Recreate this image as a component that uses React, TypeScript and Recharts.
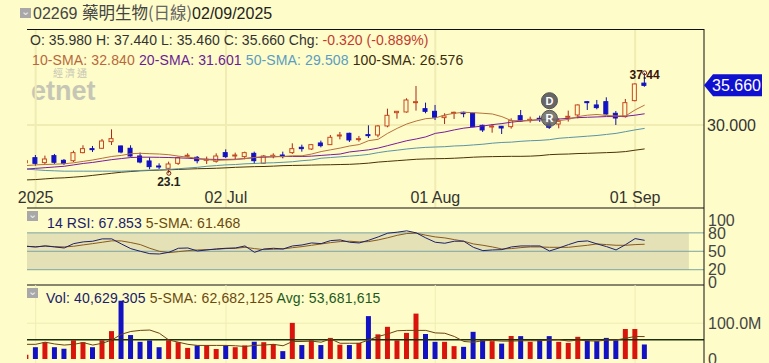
import {
  ComposedChart, Bar, Line, XAxis, YAxis, Cell, CartesianGrid,
  ReferenceLine, ReferenceArea, ReferenceDot,
} from 'recharts';

// one entry per trading day, first one is the clipped day left of the pane
const OPENS = [24.6, 25.33, 24.62, 25.62, 24.95, 24.9, 26.05, 26.62, 26.67, 27.62, 27, 26.67, 25.57, 24.86, 24.14, 23.81, 24.52, 25.57, 25.38, 24.95, 24.81, 26.05, 25.57, 25.48, 25.95, 24.52, 25.48, 25.71, 26.05, 26.81, 26.57, 27.43, 27.19, 28.43, 28.81, 27.95, 28.62, 28.57, 29.86, 31.76, 31.86, 33.19, 32.33, 31.95, 31.05, 31.67, 31.81, 31.67, 29.95, 29.71, 29.81, 29.76, 31.33, 30.62, 30.95, 30.14, 30.14, 31.1, 31.43, 33.33, 32.86, 33.33, 31.67, 31.19, 33.48, 35.98];
const HIGHS = [25, 25.71, 25.62, 25.86, 25.14, 26.33, 27.1, 27, 28, 29.38, 27.05, 27.1, 26.05, 25.38, 24.52, 24.76, 25.48, 25.95, 25.57, 25.48, 25.95, 26.52, 26.05, 26.19, 26.19, 25.71, 25.95, 26.19, 27.38, 27.19, 27.29, 27.76, 28.57, 29, 28.9, 28.43, 29.95, 30, 32.33, 32, 33.81, 35.57, 33.19, 32.86, 31.67, 31.9, 31.9, 31.76, 30.05, 30.14, 29.86, 30.95, 32.14, 31.19, 31.33, 31.43, 30.95, 32.05, 32.95, 33.43, 33.57, 33.95, 32, 33.71, 35.95, 37.44];
const LOWS = [24.38, 24.19, 24.38, 24.43, 24.29, 24.71, 25.95, 26.14, 26.57, 27.14, 25.95, 25.48, 24.52, 23.67, 23.71, 23.1, 24.29, 25.38, 24.52, 24.43, 24.62, 25.29, 25.1, 25.1, 24.43, 24.43, 25.24, 25.24, 25.86, 26.19, 26.43, 26.81, 27.19, 27.95, 27.57, 27.62, 28.14, 28.24, 29.67, 30.9, 31.76, 32.05, 31.67, 30.71, 30.14, 30.86, 31.1, 29.67, 29, 28.9, 28.71, 29.48, 30.48, 30.33, 30.43, 29.43, 29.52, 30.48, 30.95, 32.14, 32.24, 31.48, 30, 31.05, 33.38, 35.46];
const CLOSES = [24.9, 24.52, 25.14, 24.67, 24.52, 26.05, 26.62, 26.48, 27.71, 28.05, 26.14, 25.57, 24.71, 24.05, 24, 24.43, 25.33, 25.67, 24.9, 25.1, 25.57, 25.48, 25.71, 26.05, 24.9, 25.57, 25.67, 25.48, 26.62, 26.62, 27.19, 27.05, 28.24, 28.57, 27.86, 28.05, 28.52, 29.86, 31.38, 31.95, 33.57, 33.33, 31.95, 31.1, 31.29, 31.81, 31.62, 29.76, 29.29, 29.86, 29.57, 30.62, 30.57, 30.81, 30.76, 29.67, 30.52, 31.24, 32.86, 33.19, 32.48, 31.57, 31, 33.19, 35.86, 35.66];

const SMA_10 = [24.2, 24.3, 24.35, 24.4, 24.45, 24.6, 24.8, 25, 25.25, 25.5, 25.65, 25.9, 25.95, 25.9, 25.85, 25.75, 25.55, 25.4, 25.25, 25.05, 24.95, 25, 25.05, 25.2, 25.35, 25.48, 25.5, 25.5, 25.6, 25.6, 25.85, 26.2, 26.45, 26.7, 27, 27.2, 27.76, 27.95, 28.81, 29.52, 30.14, 30.57, 30.9, 31, 31.43, 31.67, 31.81, 31.76, 31.67, 31.57, 31.19, 30.62, 30.62, 30.65, 30.8, 30.75, 30.62, 30.8, 31.2, 31.4, 31.5, 31.35, 31.3, 31.3, 32.15, 32.84];
const SMA_20 = [23.7, 23.8, 23.9, 24, 24.1, 24.3, 24.5, 24.65, 24.85, 25.05, 25.2, 25.35, 25.4, 25.4, 25.38, 25.35, 25.3, 25.25, 25.15, 25.1, 25.08, 25.08, 25.1, 25.2, 25.35, 25.4, 25.45, 25.5, 25.5, 25.5, 25.55, 25.65, 25.75, 25.85, 26.15, 26.3, 26.45, 26.7, 27.05, 27.4, 27.75, 28, 28.3, 28.8, 29, 29.3, 29.55, 29.7, 29.85, 30.05, 30.2, 30.4, 30.55, 30.65, 30.75, 30.8, 30.85, 30.95, 31.05, 31.1, 31.15, 31.2, 31.2, 31.25, 31.4, 31.6];
const SMA_50 = [23.7, 23.6, 23.5, 23.45, 23.4, 23.4, 23.4, 23.4, 23.4, 23.4, 23.4, 23.45, 23.5, 23.55, 23.6, 23.65, 23.75, 23.85, 23.95, 24.1, 24.2, 24.3, 24.35, 24.45, 24.5, 24.57, 24.6, 24.67, 24.75, 24.9, 25, 25.25, 25.35, 25.45, 25.55, 25.65, 25.8, 26.05, 26.25, 26.4, 26.57, 26.7, 26.8, 26.85, 26.9, 27, 27.05, 27.15, 27.25, 27.4, 27.5, 27.55, 27.67, 27.75, 27.8, 27.9, 28.1, 28.2, 28.3, 28.4, 28.5, 28.65, 28.8, 29.05, 29.3, 29.51];
const SMA_100 = [22.15, 22.2, 22.3, 22.4, 22.45, 22.55, 22.65, 22.8, 22.95, 23.1, 23.25, 23.35, 23.45, 23.5, 23.55, 23.6, 23.65, 23.7, 23.75, 23.78, 23.82, 23.88, 23.95, 24, 24.05, 24.07, 24.12, 24.19, 24.22, 24.24, 24.27, 24.3, 24.32, 24.35, 24.38, 24.45, 24.55, 24.7, 24.8, 24.9, 25, 25.1, 25.15, 25.18, 25.2, 25.25, 25.32, 25.4, 25.45, 25.48, 25.5, 25.52, 25.52, 25.55, 25.62, 25.76, 25.82, 25.85, 25.92, 25.95, 26, 26.05, 26.1, 26.2, 26.4, 26.58];

const RSI_14 = [58.2, 57.1, 58.7, 57.1, 55.4, 62.5, 65.3, 66.4, 70.2, 70.2, 62, 54.3, 50, 46.1, 45.6, 48.3, 54.9, 55.4, 50.5, 52.2, 53.8, 54.9, 55.4, 58.7, 48.3, 53.8, 54.9, 53.8, 58.7, 60.3, 63.6, 62.5, 67.4, 68.5, 64.7, 63.6, 68, 73.4, 79.5, 81.1, 83.3, 80, 71.8, 64.7, 63.1, 66.4, 66.4, 56.5, 51.1, 52.2, 52.7, 57.1, 58.7, 58.7, 58.7, 50.5, 55.4, 60.9, 65.8, 66.9, 62, 57.6, 52.2, 60.9, 70.7, 67.85];
const RSI_SMA_5 = [58.2, 57.1, 58.7, 57.5, 57.1, 58.2, 60.4, 62.5, 64.7, 67, 66.9, 64.2, 60.9, 54.9, 50, 47.8, 49.4, 51.1, 52.2, 52.7, 53.3, 54.4, 54.9, 56.5, 54.4, 52.7, 53.3, 53.8, 55.9, 57.6, 59.8, 61.9, 64.1, 65.8, 66.4, 65.3, 65.8, 68.5, 72, 76, 78.9, 79.5, 76.2, 73.4, 71.8, 69, 66.4, 62, 59.8, 57.1, 53.8, 54.4, 56, 57.1, 57.1, 56.5, 56.5, 56.5, 58.2, 59.8, 62, 60.9, 59.8, 59.8, 60.9, 61.47];

// millions of shares
const VOLUMES = [12, 33, 47, 33, 29, 52, 47, 33, 52, 78, 163, 67, 48, 52, 33, 52, 47, 31, 38, 38, 28, 38, 33, 38, 48, 47, 42, 22, 101, 39, 52, 39, 59, 40, 39, 45, 120, 69, 90, 52, 73, 127, 70, 48, 48, 36, 34, 76, 55, 50, 43, 64, 64, 48, 55, 64, 48, 45, 62, 52, 50, 59, 52, 84, 84, 40.63];
const VOLUME_SMA_5 = [41, 41, 47, 42, 39, 41, 46, 39, 44, 53, 69, 77, 80, 81, 72, 53, 47, 41, 38, 38, 38, 38, 37, 35, 38, 39, 41, 37, 49, 49, 50, 47, 56, 44, 44, 44, 53, 63, 70, 79, 80, 80, 80, 73, 72, 63, 49, 47, 51, 52, 50, 50, 51, 51, 51, 53, 54, 50, 53, 51, 50, 53, 53, 58, 63, 62.68];

const DATE_TICKS = [0, 20, 42, 63];
const DATE_LABELS = ['2025', '02 Jul', '01 Aug', '01 Sep'];
const LAST_PRICE = 35.66;
const PRICE_TICK = 30;
const RSI_TICKS = [0, 20, 50, 80, 100];
const VOLUME_TICKS = [0, 100];
const VOLUME_AVG = 53.68;

const candles = OPENS.map((open, i) => ({
  day: i - 1,
  open,
  high: HIGHS[i],
  low: LOWS[i],
  close: CLOSES[i],
  sma10: SMA_10[i],
  sma20: SMA_20[i],
  sma50: SMA_50[i],
  sma100: SMA_100[i],
  rsi: RSI_14[i],
  rsiSma: RSI_SMA_5[i],
  vol: VOLUMES[i],
  volSma: VOLUME_SMA_5[i],
}));

const FONT = '"Liberation Sans", Arial, sans-serif';
const BG = '#fefcc8';
const RED = '#d8140c';
const BLUE = '#1212c4';
const GRID = '#f0ecb4';
const X_DOMAIN: [number, number] = [-0.91, 70.24];

function Candle(props: any) {
  const { x, y, width, height, payload: d } = props;
  const perUnit = height / (d.high - d.low || 1);
  const yOf = (v: number) => y + (d.high - v) * perUnit;
  const up = d.close >= d.open;
  const top = yOf(Math.max(d.open, d.close));
  const bottom = yOf(Math.min(d.open, d.close));
  const mid = x + width / 2;
  const wick = up ? '#a8281a' : '#12129c';
  return (
    <g>
      <line x1={mid} x2={mid} y1={y} y2={y + height} stroke={wick} strokeWidth={1} />
      <rect
        x={x}
        y={top}
        width={width - 1}
        height={Math.max(bottom - top, 1)}
        fill={up ? BG : BLUE}
        stroke={up ? '#c8481e' : BLUE}
        strokeWidth={1}
      />
    </g>
  );
}

function PriceTick(props: any) {
  const { x, y, payload } = props;
  if (payload.value === LAST_PRICE) {
    return (
      <g>
        <path
          d={`M${x} ${y} L${x + 9} ${y - 11} H${x + 58} V${y + 11} H${x + 9} Z`}
          fill="#1010d0"
        />
        <text x={x + 8} y={y + 6} fontSize={16} fill="#fff" fontFamily={FONT}>35.660</text>
      </g>
    );
  }
  return <text x={x + 3} y={y + 6} fontSize={16} fill="#333" fontFamily={FONT}>30.000</text>;
}

function DateTick(props: any) {
  const { x, y, payload } = props;
  return (
    <text x={x} y={y - 5} fontSize={16} fill="#333" textAnchor="middle" fontFamily={FONT}>
      {DATE_LABELS[DATE_TICKS.indexOf(payload.value)]}
    </text>
  );
}

function Box({ left, top }: { left: number; top: number }) {
  return (
    <div style={{ position: 'absolute', left, top, width: 11, height: 10, background: '#a8a8a8' }}>
      <div style={{ position: 'absolute', left: 1, top: -3, color: '#eee', fontSize: 11, fontFamily: FONT }}>⌄</div>
    </div>
  );
}

function Txt({ left, top, size = 14, spacing = 0, children }: { left: number; top: number; size?: number; spacing?: number; children: React.ReactNode }) {
  return (
    <div style={{ position: 'absolute', left, top, fontSize: size, letterSpacing: spacing, fontFamily: FONT, whiteSpace: 'pre', lineHeight: '18px' }}>
      {children}
    </div>
  );
}

export default function App() {
  return (
    <div style={{ position: 'absolute', left: 0, top: 0, width: 769, height: 363, overflow: 'hidden', background: BG }}>
      <div style={{ position: 'absolute', left: 31, top: 66, color: '#c6c6b6', fontFamily: FONT }}>
        <div style={{ marginLeft: 22, fontFamily: '"Noto Sans CJK TC"', fontSize: 10, letterSpacing: 2, lineHeight: '13px' }}>經濟通</div>
        <div style={{ fontSize: 27, fontWeight: 700, lineHeight: '24px' }}>etnet</div>
      </div>

      <div style={{ position: 'absolute', left: 0, top: 29 }}>
        <ComposedChart width={769} height={180} data={candles} margin={{ top: 0, right: 0, bottom: 0, left: 27 }}>
          <CartesianGrid verticalValues={DATE_TICKS} horizontalValues={[PRICE_TICK]} stroke={GRID} strokeWidth={2} />
          <XAxis
            dataKey="day"
            type="number"
            domain={X_DOMAIN}
            allowDataOverflow
            ticks={DATE_TICKS}
            interval={0}
            height={1}
            tickLine={false}
            tickSize={0}
            tickMargin={0}
            tick={<DateTick />}
            stroke="#111"
          />
          <YAxis
            orientation="right"
            width={65}
            domain={[18.14, 43.71]}
            allowDataOverflow
            ticks={[PRICE_TICK, LAST_PRICE]}
            interval={0}
            tickLine={false}
            tickSize={0}
            tickMargin={0}
            tick={<PriceTick />}
            stroke="#111"
          />
          <ReferenceLine y={43.71} stroke="#111" strokeWidth={2} />
          <Line dataKey="sma100" stroke="#4a3208" strokeWidth={1} dot={false} isAnimationActive={false} />
          <Line dataKey="sma50" stroke="#5a94a8" strokeWidth={1} dot={false} isAnimationActive={false} />
          <Line dataKey="sma20" stroke="#7a1c9c" strokeWidth={1} dot={false} isAnimationActive={false} />
          <Line dataKey="sma10" stroke="#b8703c" strokeWidth={1} dot={false} isAnimationActive={false} />
          <Bar
            dataKey={(d: any) => [d.low, d.high]}
            barSize={5}
            shape={<Candle />}
            isAnimationActive={false}
          />
          <ReferenceDot x={14} y={23.1} r={2} fill="none" stroke="#7a2010" label={{ value: '23.1', position: 'bottom', offset: 2, fontSize: 12, fontWeight: 700, fill: '#222', fontFamily: FONT }} />
          <ReferenceDot x={64} y={37.44} r={2} fill="none" stroke="#7a2010" label={{ value: '37.44', position: 'top', offset: -8, fontSize: 12, fontWeight: 700, fill: '#3a1408', fontFamily: FONT }} />
          <ReferenceDot x={54} y={33.47} r={8} fill="#666" stroke="#555" label={{ value: 'D', position: 'center', fontSize: 11, fontWeight: 700, fill: '#fff', fontFamily: FONT }} />
          <ReferenceDot x={54} y={30.95} r={8} fill="#666" fillOpacity={0.85} stroke="#555" label={{ value: 'R', position: 'center', fontSize: 11, fontWeight: 700, fill: '#fff', fontFamily: FONT }} />
        </ComposedChart>
      </div>

      <div style={{ position: 'absolute', left: 0, top: 208 }}>
        <ComposedChart width={769} height={91} data={candles} margin={{ top: 0, right: 0, bottom: 13, left: 27 }}>
          <CartesianGrid verticalValues={DATE_TICKS} horizontal={false} stroke={GRID} strokeWidth={2} />
          <XAxis dataKey="day" type="number" domain={X_DOMAIN} allowDataOverflow height={1} tick={false} tickLine={false} stroke="#111" />
          <YAxis
            orientation="right"
            width={65}
            domain={[-4.9, 120.5]}
            allowDataOverflow
            ticks={RSI_TICKS}
            interval={0}
            tickLine={false}
            tickSize={0}
            tick={{ fontSize: 16, fill: '#444', fontFamily: FONT }}
            tickMargin={4}
            stroke="#111"
          />
          <ReferenceArea x1={-0.91} x2={68.65} y1={20} y2={80} fill="#e0deb2" fillOpacity={0.9} stroke="none" />
          {[20, 50, 80].map((v) => (
            <ReferenceLine key={v} y={v} segment={[{ x: -0.91, y: v }, { x: 68.65, y: v }]} stroke="#7da4a4" />
          ))}
          <Line dataKey="rsiSma" stroke="#8a5a1c" strokeWidth={1} dot={false} isAnimationActive={false} />
          <Line dataKey="rsi" stroke="#20206a" strokeWidth={1} dot={false} isAnimationActive={false} />
        </ComposedChart>
      </div>

      <div style={{ position: 'absolute', left: 0, top: 285 }}>
        <ComposedChart width={769} height={78} data={candles} margin={{ top: 0, right: 0, bottom: 0, left: 27 }}>
          <CartesianGrid verticalValues={DATE_TICKS} horizontalValues={[100]} stroke={GRID} strokeWidth={1} />
          <XAxis dataKey="day" type="number" domain={X_DOMAIN} allowDataOverflow hide />
          <YAxis
            orientation="right"
            width={65}
            domain={[-11.2, 207]}
            allowDataOverflow
            ticks={VOLUME_TICKS}
            interval={0}
            tickLine={false}
            tickSize={0}
            tick={{ fontSize: 16, fill: '#444', fontFamily: FONT }}
            tickFormatter={(v: number) => (v === 0 ? '0' : `${v.toFixed(1)}M`)}
            tickMargin={4}
            stroke="#111"
          />
          <Bar dataKey="vol" barSize={5} isAnimationActive={false}>
            {candles.map((d) => (
              <Cell key={d.day} fill={d.close >= d.open ? RED : BLUE} />
            ))}
          </Bar>
          <ReferenceLine
            y={VOLUME_AVG}
            segment={[{ x: -0.91, y: VOLUME_AVG }, { x: 64, y: VOLUME_AVG }]}
            stroke="#1c3010"
            strokeWidth={1.5}
          />
          <Line dataKey="volSma" stroke="#6a4410" strokeWidth={1} dot={false} isAnimationActive={false} />
        </ComposedChart>
      </div>

      <Box left={20} top={8} />
      <Txt left={33} top={3} size={16}>
        <span style={{ color: '#444' }}>02269 </span>
        <span style={{ color: '#444', fontFamily: '"Noto Sans CJK TC"', fontSize: 16.5 }}>藥明生物</span>
        <span style={{ color: '#666', fontFamily: '"Noto Sans CJK TC"', fontSize: 16.5 }}>(日線)</span>
        <span style={{ color: '#222' }}>02/09/2025</span>
      </Txt>
      <Txt left={30} top={31} spacing={0.05}>
        <span style={{ color: '#333' }}>O: 35.980 H: 37.440 L: 35.460 C: 35.660 Chg: </span>
        <span style={{ color: '#c43a30' }}>-0.320 (-0.889%)</span>
      </Txt>
      <Txt left={32} top={51} spacing={0.12}>
        <span style={{ color: '#b8683c' }}>10-SMA: 32.840 </span>
        <span style={{ color: '#6a1c94' }}>20-SMA: 31.601 </span>
        <span style={{ color: '#5a9cc4' }}>50-SMA: 29.508 </span>
        <span style={{ color: '#3a2c0c' }}>100-SMA: 26.576</span>
      </Txt>
      <Box left={27} top={211} />
      <Txt left={47} top={214} spacing={0.1}>
        <span style={{ color: '#20206a' }}>14 RSI: 67.853 </span>
        <span style={{ color: '#6a4a10' }}>5-SMA: 61.468</span>
      </Txt>
      <Box left={27} top={288} />
      <Txt left={46} top={289} spacing={0.16}>
        <span style={{ color: '#20206a' }}>Vol: 40,629,305 </span>
        <span style={{ color: '#6a4a10' }}>5-SMA: 62,682,125 </span>
        <span style={{ color: '#1c5a1c' }}>Avg: 53,681,615</span>
      </Txt>
    </div>
  );
}
